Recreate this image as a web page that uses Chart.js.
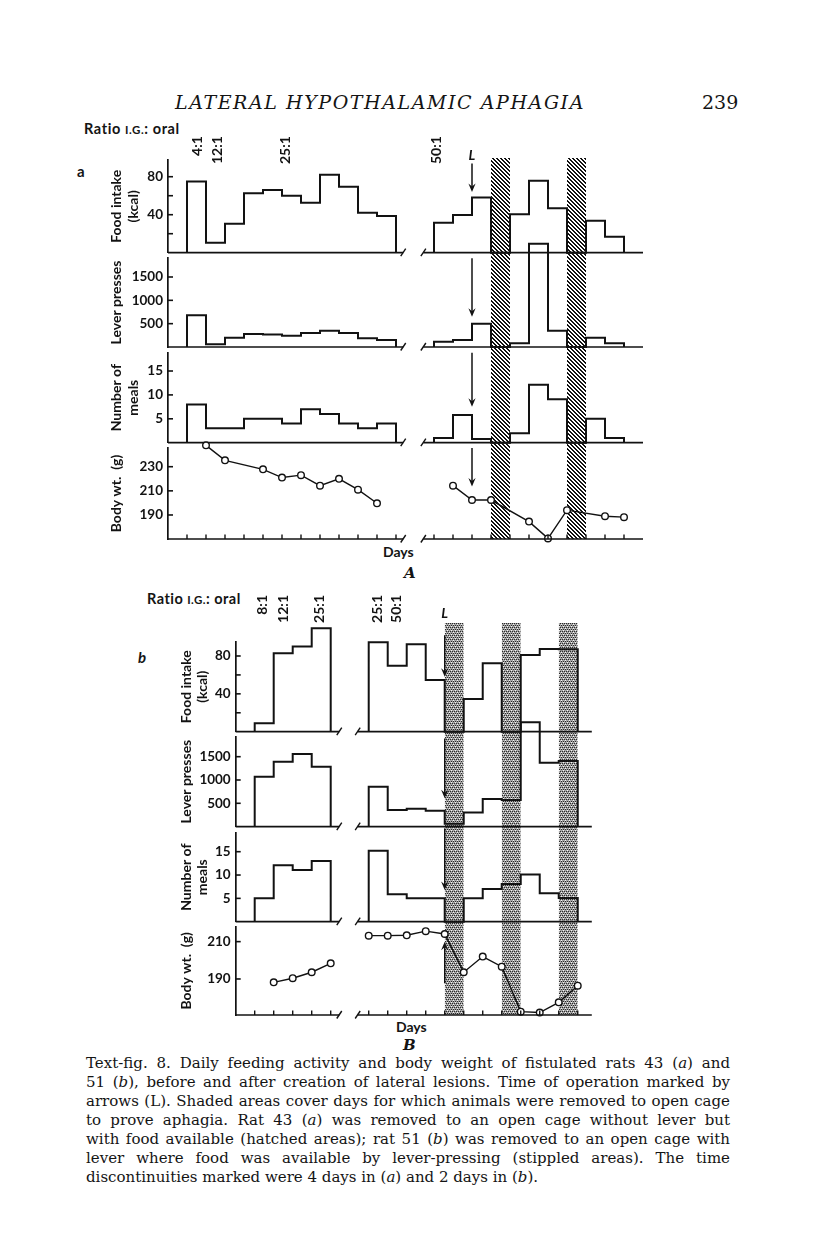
<!DOCTYPE html>
<html><head><meta charset="utf-8">
<script src="https://cdn.jsdelivr.net/npm/chart.js@4.4.1/dist/chart.umd.min.js"></script>
<style>
html,body{margin:0;padding:0;background:#fff;}
body{width:816px;height:1258px;position:relative;overflow:hidden;}
canvas{position:absolute;left:0;}
.t{position:absolute;white-space:nowrap;color:#141414;line-height:1;}
.sans{font-family:Lato,'Open Sans',sans-serif;font-weight:700;}
.serif{font-family:'DejaVu Serif',serif;}
.cap{position:absolute;left:86px;white-space:nowrap;font-family:'DejaVu Serif',serif;font-size:15px;line-height:1;color:#141414;}
</style></head><body>
<div class="t serif" data-ls="410" style="left:175px;top:93px;font-size:19px;font-style:italic;">LATERAL HYPOTHALAMIC APHAGIA</div>
<div class="t serif" style="left:702px;top:93px;font-size:19px;">239</div>
<div class="t sans" data-ls="96" style="left:84px;top:122px;font-size:14.5px;">Ratio <span style="font-size:11.5px">I.G.</span>: oral</div>
<div class="t sans" style="left:77px;top:164px;font-size:15px;">a</div>
<div class="t sans" style="left:383px;top:545px;font-size:14px;">Days</div>
<div class="t serif" style="left:404px;top:566px;font-size:15px;font-style:italic;font-weight:700;">A</div>
<div class="t sans" data-ls="94" style="left:147px;top:592px;font-size:14.5px;">Ratio <span style="font-size:11.5px">I.G.</span>: oral</div>
<div class="t sans" style="left:138px;top:650px;font-size:15px;font-style:italic;">b</div>
<div class="t sans" style="left:396px;top:1020px;font-size:14px;">Days</div>
<div class="t serif" style="left:403px;top:1038px;font-size:15px;font-style:italic;font-weight:700;">B</div>

<div class="cap j" style="top:1056px">Text-fig. 8. Daily feeding activity and body weight of fistulated rats 43 (<i>a</i>) and</div>
<div class="cap j" style="top:1075px">51 (<i>b</i>), before and after creation of lateral lesions. Time of operation marked by</div>
<div class="cap j" style="top:1094px">arrows (L). Shaded areas cover days for which animals were removed to open cage</div>
<div class="cap j" style="top:1113px">to prove aphagia. Rat 43 (<i>a</i>) was removed to an open cage without lever but</div>
<div class="cap j" style="top:1132px">with food available (hatched areas); rat 51 (<i>b</i>) was removed to an open cage with</div>
<div class="cap j" style="top:1151px">lever where food was available by lever-pressing (stippled areas). The time</div>
<div class="cap" style="top:1170px">discontinuities marked were 4 days in (<i>a</i>) and 2 days in (<i>b</i>).</div>

<script>
// ================= DATA =================
// ---- Figure A (rat 43) : daily values, left block starts day 1, right block day 14
const A_firstDayLeft  = 1;
const A_firstDayRight = 14;
const A_foodLeft   = [75, 10.5, 30.5, 62.5, 66, 60, 52.6, 82, 69.5, 42, 38.6];
const A_foodRight  = [31.6, 39.6, 58.2, 0, 40.4, 75.8, 46.7, 0, 33.7, 16.8];
const A_leverLeft  = [680, 60, 200, 280, 270, 240, 300, 350, 300, 190, 150];
const A_leverRight = [110, 150, 500, 0, 80, 2210, 350, 0, 200, 80];
const A_mealsLeft  = [8, 3, 3, 5, 5, 4, 7, 6, 4, 3, 4];
const A_mealsRight = [1, 5.8, 0.8, 0, 2, 12.1, 9.1, 0, 5, 1];
const A_wtLeftDays  = [2, 3, 5, 6, 7, 8, 9, 10, 11];
const A_wtLeft      = [247.7, 235.3, 227.8, 221, 223, 214.3, 220, 211, 199.7];
const A_wtRightDays = [15, 16, 17, 19, 20, 21, 23, 24];
const A_wtRight     = [214.3, 202.4, 202.4, 184.5, 170.6, 194, 189, 188.2];
const A_hatchDays   = [17, 21];
const A_lesionDay   = 16;
const A_ratioDays   = [1.53, 2.6, 6.2, 14.14];
const A_ratioLabels = ['4:1', '12:1', '25:1', '50:1'];
const A_tickDays    = [1,2,3,4,5,6,7,8,9,10,11,12,14,15,16,17,18,19,20,21,22,23,24];
const A_axisSegments = [[0, 12.38], [13.44, 25]];

// ---- Figure B (rat 51) : left block starts day 1, right block day 7
const B_firstDayLeft  = 1;
const B_firstDayRight = 7;
const B_foodLeft   = [8.8, 82.9, 89.9, 109.3];
const B_foodRight  = [94.5, 69.8, 92.4, 54.7, 0, 34.6, 72.3, 0, 81, 87.4, 87];
const B_leverLeft  = [1071, 1393, 1558, 1286];
const B_leverRight = [856, 356, 384, 341, 60, 300, 592, 571, 2238, 1371, 1408];
const B_mealsLeft  = [5, 12.1, 11.1, 13];
const B_mealsRight = [15.2, 5.9, 5, 5, 0, 5, 7, 8.1, 10.1, 6.1, 5.1];
const B_wtLeftDays  = [2, 3, 4, 5];
const B_wtLeft      = [188.2, 190.4, 193.6, 198.4];
const B_wtRightDays = [7, 8, 9, 10, 11, 12, 13, 14, 15, 16, 17, 18];
const B_wtRight     = [213.2, 213.2, 213.4, 215.6, 214.1, 193.6, 202, 196.6, 172.5, 172, 177.5, 186.4];
const B_stippleDays = [11, 14, 17];
const B_lesionDay   = 11;
const B_ratioDays   = [1.42, 2.5, 4.4, 7.46, 8.44];
const B_ratioLabels = ['8:1', '12:1', '25:1', '25:1', '50:1'];
const B_tickDays    = [1,2,3,4,5,7,8,9,10,11,12,13,14,15,16,17,18];
const B_axisSegments = [[0, 5.45], [6.42, 18.74]];

// tick values of each y axis
const foodTicks = [20, 40, 60, 80], foodLabels = [40, 80];
const leverTicks = [500, 1000, 1500];
const mealTicks = [5, 10, 15];
const wtTicksA = [190, 210, 230];
const wtTicksB = [190, 210];

// ================= DRAWING =================
const INK = '#121212';
Chart.defaults.font.family = "Lato, 'Open Sans', 'DejaVu Sans', sans-serif";
Chart.defaults.color = INK;

const FIG_A = {axisX: 168, padLeft: 108.3, xMax: 25, right: 643};
const FIG_B = {axisX: 235.7, padLeft: 177.6, xMax: 18.74, right: 591.8};

const decor = {
  id: 'decor',
  afterDraw(chart, args, o) {
    const {ctx, chartArea: ca, scales} = chart;
    const x = scales.x, y = scales.y;
    ctx.save();
    ctx.strokeStyle = INK; ctx.fillStyle = INK; ctx.lineCap = 'butt';
    if (o.yTicks) {
      ctx.lineWidth = 1.6;
      y.ticks.forEach(t => {
        const py = y.getPixelForValue(t.value);
        ctx.beginPath(); ctx.moveTo(ca.left, py); ctx.lineTo(ca.left + 5, py); ctx.stroke();
      });
    }
    if (o.segments) {
      const by = ca.bottom;
      ctx.lineWidth = 1.7;
      o.segments.forEach(s => {
        ctx.beginPath(); ctx.moveTo(x.getPixelForValue(s[0]), by); ctx.lineTo(x.getPixelForValue(s[1]), by); ctx.stroke();
      });
      ctx.lineWidth = 1.4;
      [o.segments[0][1], o.segments[1][0]].forEach(d => {
        const px = x.getPixelForValue(d);
        ctx.beginPath(); ctx.moveTo(px - 2.5, by + 3.5); ctx.lineTo(px + 2.5, by - 4); ctx.stroke();
      });
    }
    if (o.bottomTicks) {
      ctx.lineWidth = 1.4;
      o.bottomTicks.forEach(d => {
        const px = x.getPixelForValue(d);
        ctx.beginPath(); ctx.moveTo(px, ca.bottom); ctx.lineTo(px, ca.bottom - 4.5); ctx.stroke();
      });
    }
    if (o.arrow) {
      const px = x.getPixelForValue(o.arrow.day);
      const y0 = y.getPixelForValue(o.arrow.from), y1 = y.getPixelForValue(o.arrow.to);
      const dir = y1 > y0 ? 1 : -1;
      ctx.lineWidth = 1.5;
      ctx.beginPath(); ctx.moveTo(px, y0); ctx.lineTo(px, y1 - dir * 4); ctx.stroke();
      ctx.beginPath(); ctx.moveTo(px, y1); ctx.lineTo(px - 3.6, y1 - dir * 8.5);
      ctx.lineTo(px, y1 - dir * 5.5); ctx.lineTo(px + 3.6, y1 - dir * 8.5); ctx.closePath(); ctx.fill();
    }
    if (o.L) {
      ctx.font = "italic 700 14px Lato, sans-serif";
      ctx.textAlign = 'center'; ctx.textBaseline = 'middle';
      ctx.fillText('L', x.getPixelForValue(o.L.day), y.getPixelForValue(o.L.y));
    }
    if (o.ratio) {
      ctx.font = "700 14px Lato, sans-serif";
      ctx.textAlign = 'right'; ctx.textBaseline = 'middle';
      o.ratio.days.forEach((d, i) => {
        ctx.save();
        ctx.translate(x.getPixelForValue(d), y.getPixelForValue(o.ratio.y));
        ctx.rotate(-Math.PI / 2);
        ctx.fillText(o.ratio.labels[i], 0, 0);
        ctx.restore();
      });
    }
    ctx.restore();
  }
};

function stepPoints(firstDay, vals) {
  const pts = [{x: firstDay, y: 0}];
  vals.forEach((v, i) => pts.push({x: firstDay + i, y: v}));
  pts.push({x: firstDay + vals.length, y: 0});
  return pts;
}
function stepDs(firstDay, vals) {
  return {data: stepPoints(firstDay, vals), stepped: true, borderColor: INK, borderWidth: 2,
          pointRadius: 0, fill: false, clip: false, tension: 0};
}
function wtDs(days, vals) {
  return {data: days.map((d, i) => ({x: d, y: vals[i]})), borderColor: INK, borderWidth: 1.4,
          pointRadius: 3.3, pointBackgroundColor: '#fff', pointBorderColor: INK, pointBorderWidth: 1.4,
          fill: false, clip: false, tension: 0};
}

function newCanvas(top, height) {
  const c = document.createElement('canvas');
  c.width = 816; c.height = height;
  c.style.top = top + 'px';
  document.body.appendChild(c);
  return c;
}

function makePanel(fig, p) {
  const canvasTop = Math.round(p.top - 60);
  const padTop = p.top - canvasTop;
  const height = Math.ceil(p.bottom + 16 - canvasTop);
  const padBottom = height - (p.bottom - canvasTop);
  const c = newCanvas(canvasTop, height);
  return new Chart(c, {
    type: 'line',
    data: {datasets: p.datasets},
    options: {
      responsive: false, animation: false, devicePixelRatio: 1, events: [],
      layout: {autoPadding: false, padding: {left: fig.padLeft, right: 816 - fig.right, top: padTop, bottom: padBottom}},
      plugins: {legend: {display: false}, tooltip: {enabled: false}, decor: p.decor},
      scales: {
        x: {type: 'linear', min: 0, max: fig.xMax, display: false},
        y: {
          type: 'linear', min: p.min, max: p.max, bounds: 'data',
          afterFit: s => { s.width = fig.axisX - fig.padLeft; },
          afterBuildTicks: s => { s.ticks = p.ticks.map(v => ({value: v})); },
          ticks: {padding: 5, autoSkip: false, color: INK, font: {size: 13.5, weight: '700'},
                  callback: v => (p.labels || p.ticks).includes(v) ? String(v) : ''},
          grid: {display: false, drawTicks: false},
          border: {display: true, color: INK, width: 1.7},
          title: {display: true, text: p.title, color: INK, font: {size: 14, weight: '700'}, padding: {top: 0, bottom: 0}}
        }
      }
    },
    plugins: [decor]
  });
}

function makeShade(fig, days, top, bottom, kind) {
  const c = newCanvas(Math.round(top), Math.round(bottom - top));
  const ctx = c.getContext('2d');
  const tile = document.createElement('canvas');
  const n = 4;
  tile.width = n; tile.height = n;
  const tctx = tile.getContext('2d');
  if (kind === 'hatch') {
    tctx.fillStyle = '#fff'; tctx.fillRect(0, 0, n, n);
    tctx.fillStyle = '#111';
    for (let yy = 0; yy < n; yy++) for (let xx = 0; xx < n; xx++) {
      if ((((xx - yy) % 4 + 4) % 4) < 2) tctx.fillRect(xx, yy, 1, 1);
    }
  } else {
    tctx.fillStyle = '#a4a4a4'; tctx.fillRect(0, 0, n, n);
    tctx.fillStyle = '#2a2a2a';
    [[0, 0], [2, 0], [1, 2], [3, 2]].forEach(([xx, yy]) => tctx.fillRect(xx, yy, 1, 1));
    tctx.fillStyle = '#f4f4f4';
    [[1, 1], [3, 3]].forEach(([xx, yy]) => tctx.fillRect(xx, yy, 1, 1));
  }
  const pattern = ctx.createPattern(tile, 'repeat');
  return new Chart(c, {
    type: 'line',
    data: {datasets: days.map(d => ({data: [{x: d, y: 1}, {x: d + 1, y: 1}], fill: 'origin',
      backgroundColor: pattern, borderColor: 'rgba(0,0,0,0)', borderWidth: 0, pointRadius: 0}))},
    options: {
      responsive: false, animation: false, devicePixelRatio: 1, events: [],
      layout: {autoPadding: false, padding: {left: fig.axisX, right: 816 - fig.right, top: 0, bottom: 0}},
      plugins: {legend: {display: false}, tooltip: {enabled: false}},
      scales: {x: {type: 'linear', min: 0, max: fig.xMax, display: false},
               y: {type: 'linear', min: 0, max: 1, display: false}}
    }
  });
}

// ---- Figure A ----
makeShade(FIG_A, A_hatchDays, 158, 539, 'hatch');
makePanel(FIG_A, {top: 160, bottom: 252.7, min: 0, max: 97.6, ticks: foodTicks, labels: foodLabels,
  title: ['Food intake', '(kcal)'],
  datasets: [stepDs(A_firstDayLeft, A_foodLeft), stepDs(A_firstDayRight, A_foodRight)],
  decor: {yTicks: true, segments: A_axisSegments, arrow: {day: A_lesionDay, from: 94, to: 64},
          L: {day: A_lesionDay, y: 102.8}, ratio: {days: A_ratioDays, labels: A_ratioLabels, y: 122.8}}});
makePanel(FIG_A, {top: 258, bottom: 347, min: 0, max: 1907, ticks: leverTicks,
  title: ['Lever presses'],
  datasets: [stepDs(A_firstDayLeft, A_leverLeft), stepDs(A_firstDayRight, A_leverRight)],
  decor: {yTicks: true, segments: A_axisSegments, arrow: {day: A_lesionDay, from: 1900, to: 650}}});
makePanel(FIG_A, {top: 352.7, bottom: 442.7, min: 0, max: 18.83, ticks: mealTicks,
  title: ['Number of', 'meals'],
  datasets: [stepDs(A_firstDayLeft, A_mealsLeft), stepDs(A_firstDayRight, A_mealsRight)],
  decor: {yTicks: true, segments: A_axisSegments, arrow: {day: A_lesionDay, from: 18.8, to: 7.5}}});
makePanel(FIG_A, {top: 448, bottom: 539, min: 170.1, max: 245.5, ticks: wtTicksA,
  title: ['Body wt.  (g)'],
  datasets: [wtDs(A_wtLeftDays, A_wtLeft), wtDs(A_wtRightDays, A_wtRight)],
  decor: {yTicks: true, segments: A_axisSegments, bottomTicks: A_tickDays,
          arrow: {day: A_lesionDay, from: 245.5, to: 213.5}}});

// ---- Figure B ----
makeShade(FIG_B, B_stippleDays, 623, 1015, 'stipple');
makePanel(FIG_B, {top: 641.7, bottom: 731.7, min: 0, max: 95.1, ticks: foodTicks, labels: foodLabels,
  title: ['Food intake', '(kcal)'],
  datasets: [stepDs(B_firstDayLeft, B_foodLeft), stepDs(B_firstDayRight, B_foodRight)],
  decor: {yTicks: true, segments: B_axisSegments, arrow: {day: B_lesionDay, from: 102, to: 58},
          L: {day: B_lesionDay, y: 124.4}, ratio: {days: B_ratioDays, labels: B_ratioLabels, y: 144.5}}});
makePanel(FIG_B, {top: 736.7, bottom: 826.6, min: 0, max: 1929, ticks: leverTicks,
  title: ['Lever presses'],
  datasets: [stepDs(B_firstDayLeft, B_leverLeft), stepDs(B_firstDayRight, B_leverRight)],
  decor: {yTicks: true, segments: B_axisSegments, arrow: {day: B_lesionDay, from: 1890, to: 610}}});
makePanel(FIG_B, {top: 832.7, bottom: 921.7, min: 0, max: 19.07, ticks: mealTicks,
  title: ['Number of', 'meals'],
  datasets: [stepDs(B_firstDayLeft, B_mealsLeft), stepDs(B_firstDayRight, B_mealsRight)],
  decor: {yTicks: true, segments: B_axisSegments, arrow: {day: B_lesionDay, from: 20, to: 6.8}}});
makePanel(FIG_B, {top: 926.7, bottom: 1015, min: 170.7, max: 218, ticks: wtTicksB,
  title: ['Body wt.  (g)'],
  datasets: [wtDs(B_wtLeftDays, B_wtLeft), wtDs(B_wtRightDays, B_wtRight)],
  decor: {yTicks: true, segments: B_axisSegments, bottomTicks: B_tickDays,
          arrow: {day: B_lesionDay, from: 187.7, to: 210}}});

// ---- text fitting ----
function fitText() {
  document.querySelectorAll('[data-ls]').forEach(el => {
    el.style.letterSpacing = '0px';
    const w = el.getBoundingClientRect().width;
    const n = el.textContent.length;
    el.style.letterSpacing = ((+el.dataset.ls - w) / n) + 'px';
  });
  const caps = Array.from(document.querySelectorAll('.cap'));
  const target = 644;
  caps.forEach(el => { el.style.fontSize = '15px'; el.style.wordSpacing = '0px'; });
  let maxW = 0;
  caps.forEach(el => { maxW = Math.max(maxW, el.getBoundingClientRect().width); });
  if (maxW > target - 6) {
    const fs = 15 * (target - 6) / maxW;
    caps.forEach(el => el.style.fontSize = fs + 'px');
  }
  document.querySelectorAll('.cap.j').forEach(el => {
    const w = el.getBoundingClientRect().width;
    const spaces = el.textContent.split(' ').length - 1;
    el.style.wordSpacing = ((target - w) / spaces) + 'px';
  });
}
fitText();
if (document.fonts && document.fonts.ready) document.fonts.ready.then(fitText);
</script>
</body></html>
